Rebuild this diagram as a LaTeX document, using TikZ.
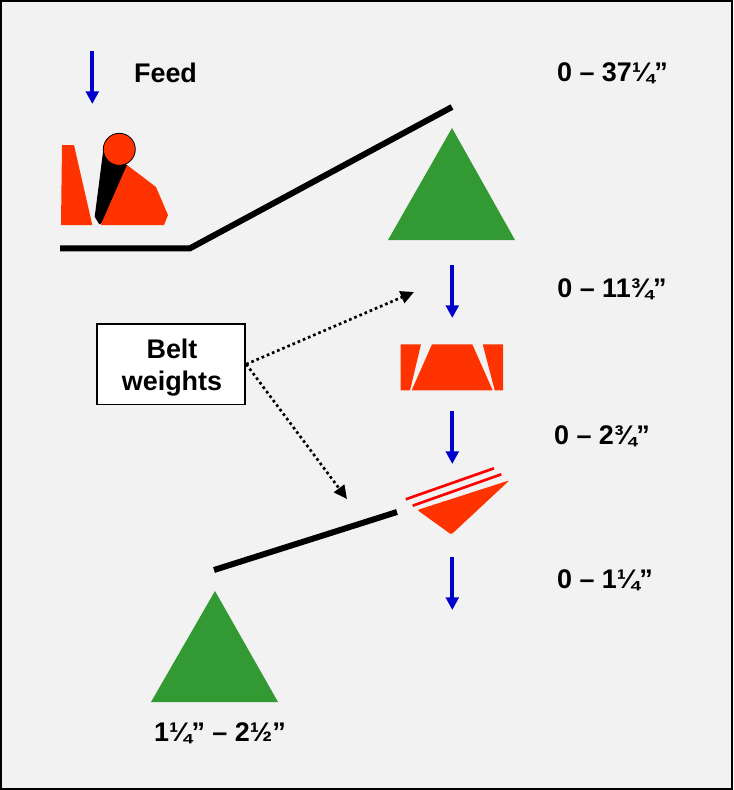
\documentclass[tikz,border=0pt]{standalone}
\usepackage{fontspec}
\setmainfont{Liberation Sans}
\usetikzlibrary{arrows.meta}
\definecolor{bgc}{HTML}{F2F2F2}
\definecolor{redc}{HTML}{FF3300}
\definecolor{greenc}{HTML}{339933}
\definecolor{bluec}{HTML}{0000CC}
\tikzset{
  lab/.style={font=\fontsize{20.2}{24}\selectfont\bfseries,inner sep=0pt,anchor=center},
  feedarrow/.style={bluec,line width=3pt,-{Triangle[length=9.5pt,width=9.5pt]}},
  beltline/.style={black,line width=4.5pt,line join=miter},
  stack/.style={greenc,fill=greenc},
  part/.style={fill=redc,draw=none},
  dotarrow/.style={black,line width=2pt,dash pattern=on 2pt off 2.2pt,-{Triangle[length=10pt,width=9.5pt]}},
  redline/.style={red,line width=2pt},
  noteBox/.style={draw=black,line width=1.4pt,fill=white,align=center,inner sep=0pt,minimum width=111pt,minimum height=60.5pt,font=\fontsize{20.2}{24.3}\selectfont\bfseries}
}
\begin{document}
\begin{tikzpicture}[x=0.75pt,y=-0.75pt]
\useasboundingbox (0,0) rectangle (733,790);
\draw[draw=black,line width=1pt,fill=bgc] (1,1) rectangle (732,789);
% feed arrows
\coordinate (a1s) at (92.3,51); \coordinate (a1e) at (92.3,104);
\coordinate (a2s) at (452.3,265); \coordinate (a2e) at (452.3,318);
\coordinate (a3s) at (452.3,411); \coordinate (a3e) at (452.3,464);
\coordinate (a4s) at (452.3,557); \coordinate (a4e) at (452.3,610);
\draw[feedarrow] (a1s) -- (a1e);
\draw[feedarrow] (a2s) -- (a2e);
\draw[feedarrow] (a3s) -- (a3e);
\draw[feedarrow] (a4s) -- (a4e);
% jaw crusher
\fill[part] (62,145) -- (74,145) -- (92.3,225) -- (61,225) -- cycle;
\fill[black] (103.3,150) -- (94.7,216.7) -- (99.3,224.3) -- (104,222) -- (130,170) -- (127,165) -- cycle;
\fill[part] (127,165) -- (156,187) -- (168,215) -- (164,225) -- (100.7,225) -- cycle;
\draw[black,line width=0.6pt,fill=redc] (119.3,149.3) circle[radius=16];
% upper belt & stockpile
\coordinate (b1a) at (60,248.3); \coordinate (b1b) at (190,248.3); \coordinate (b1c) at (452,107);
\draw[beltline] (b1a) -- (b1b) -- (b1c);
\fill[stack] (452,128) -- (515,240) -- (388,240) -- cycle;
% cone crusher
\fill[part] (400.7,344.3) -- (421,344.3) -- (410,390.3) -- (400.7,390.3) -- cycle;
\fill[part] (432,344.3) -- (472.3,344.3) -- (492.7,390.3) -- (411.7,390.3) -- cycle;
\fill[part] (482.7,344.3) -- (503,344.3) -- (503,390.3) -- (494.7,390.3) -- cycle;
% screen
\coordinate (s1a) at (405.7,499.3); \coordinate (s1b) at (494,468.3);
\coordinate (s2a) at (412.7,505.7); \coordinate (s2b) at (501.3,474.3);
\draw[redline] (s1a) -- (s1b);
\draw[redline] (s2a) -- (s2b);
\fill[part,rounded corners=1pt] (417.3,510) -- (509.5,480.3) -- (451.3,534.5) -- cycle;
% lower belt & stockpile
\coordinate (b2a) at (214,570); \coordinate (b2b) at (397,512);
\draw[beltline] (b2a) -- (b2b);
\fill[stack] (215,591) -- (278,702) -- (151,702) -- cycle;
% belt weights
\node[noteBox] (box) at (171.3,364.2) {};
\node[lab,anchor=base] (t1) at (172,358) {Belt};
\node[lab,anchor=base] (t2) at (172,390) {weights};
\coordinate (w0) at (box.east);
\coordinate (w1) at (414,292);
\coordinate (w2) at (347,499);
\draw[dotarrow] (w0) -- (w1);
\draw[dotarrow] (w0) -- (w2);
% labels
\node[lab] (feed) at (165.5,73) {Feed};
\node[lab] (l1) at (612.5,73) {0 – 37¼”};
\node[lab] (l2) at (612,289) {0 – 11¾”};
\node[lab] (l3) at (602,436) {0 – 2¾”};
\node[lab] (l4) at (605,580) {0 – 1¼”};
\node[lab] (l5) at (220,733) {1¼” – 2½”};
\end{tikzpicture}
\end{document}
